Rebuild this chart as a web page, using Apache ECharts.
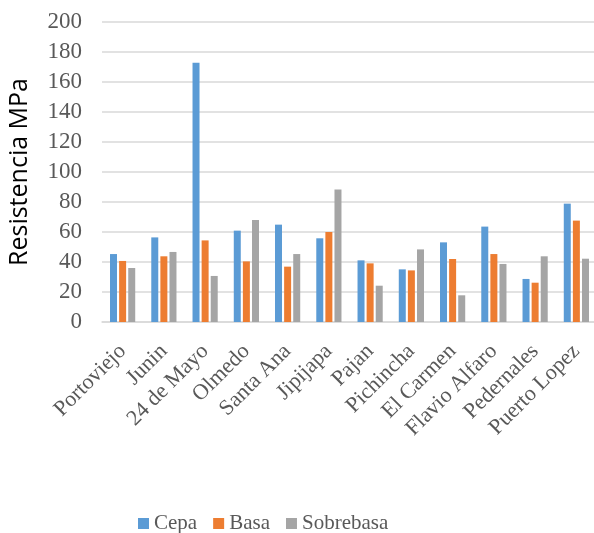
<!DOCTYPE html>
<html>
<head>
<meta charset="utf-8">
<script src="https://cdn.jsdelivr.net/npm/echarts@6/dist/echarts.min.js"></script>
<style>
  html, body { margin: 0; padding: 0; background: #fff; }
  #chart { width: 594px; height: 533px; }
</style>
</head>
<body>
<div id="chart"></div>
<script>
// Compressive strength by canton and pavement layer
const cantones = ['Portoviejo', 'Junin', '24 de Mayo', 'Olmedo', 'Santa Ana', 'Jipijapa',
  'Pajan', 'Pichincha', 'El Carmen', 'Flavio Alfaro', 'Pedernales', 'Puerto Lopez'];
const cepa = [45.3, 56.4, 172.9, 60.9, 64.9, 55.8, 41.1, 35.1, 53.1, 63.6, 28.7, 78.9];
const basa = [40.7, 43.8, 54.4, 40.4, 36.9, 60.0, 39.1, 34.4, 42.0, 45.3, 26.2, 67.6];
const sobrebasa = [36.0, 46.7, 30.7, 68.0, 45.3, 88.4, 24.2, 48.4, 17.8, 38.7, 43.8, 42.2];
const yTicks = { min: 0, max: 200, interval: 20 };

const serif = '"Liberation Serif", "DejaVu Serif", serif';
const chart = echarts.init(document.getElementById('chart'));

function barSeries(name, data, color) {
  return {
    name: name,
    type: 'bar',
    data: data,
    barWidth: 7,
    barGap: '30%',
    itemStyle: { color: color },
    emphasis: { disabled: true }
  };
}

chart.setOption({
  animation: false,
  grid: {
    left: 102, top: 22, width: 495, height: 300,
    containLabel: false, outerBoundsMode: 'none'
  },
  legend: {
    top: 508,
    left: 133,
    itemWidth: 11,
    itemHeight: 11,
    itemGap: 16,
    icon: 'rect',
    textStyle: { fontFamily: serif, fontSize: 21, color: '#595959' },
    data: ['Cepa', 'Basa', 'Sobrebasa']
  },
  xAxis: {
    type: 'category',
    data: cantones,
    axisLine: { lineStyle: { color: '#d9d9d9', width: 1.5 } },
    axisTick: { show: false },
    axisLabel: {
      interval: 0,
      rotate: 45,
      margin: 26,
      fontFamily: serif,
      fontSize: 22,
      color: '#595959'
    }
  },
  yAxis: {
    type: 'value',
    min: yTicks.min,
    max: yTicks.max,
    interval: yTicks.interval,
    name: 'Resistencia MPa',
    nameLocation: 'middle',
    nameGap: 70,
    nameRotate: 90,
    nameTextStyle: { fontFamily: '"Open Sans", "Noto Sans", sans-serif', fontSize: 25, color: '#000' },
    axisLine: { show: false },
    axisTick: { show: false },
    splitLine: { lineStyle: { color: '#d9d9d9', width: 1.5 } },
    axisLabel: { fontFamily: serif, fontSize: 23, color: '#595959', margin: 20 }
  },
  series: [
    barSeries('Cepa', cepa, '#5b9bd5'),
    barSeries('Basa', basa, '#ed7d31'),
    barSeries('Sobrebasa', sobrebasa, '#a5a5a5')
  ]
});
</script>
</body>
</html>
